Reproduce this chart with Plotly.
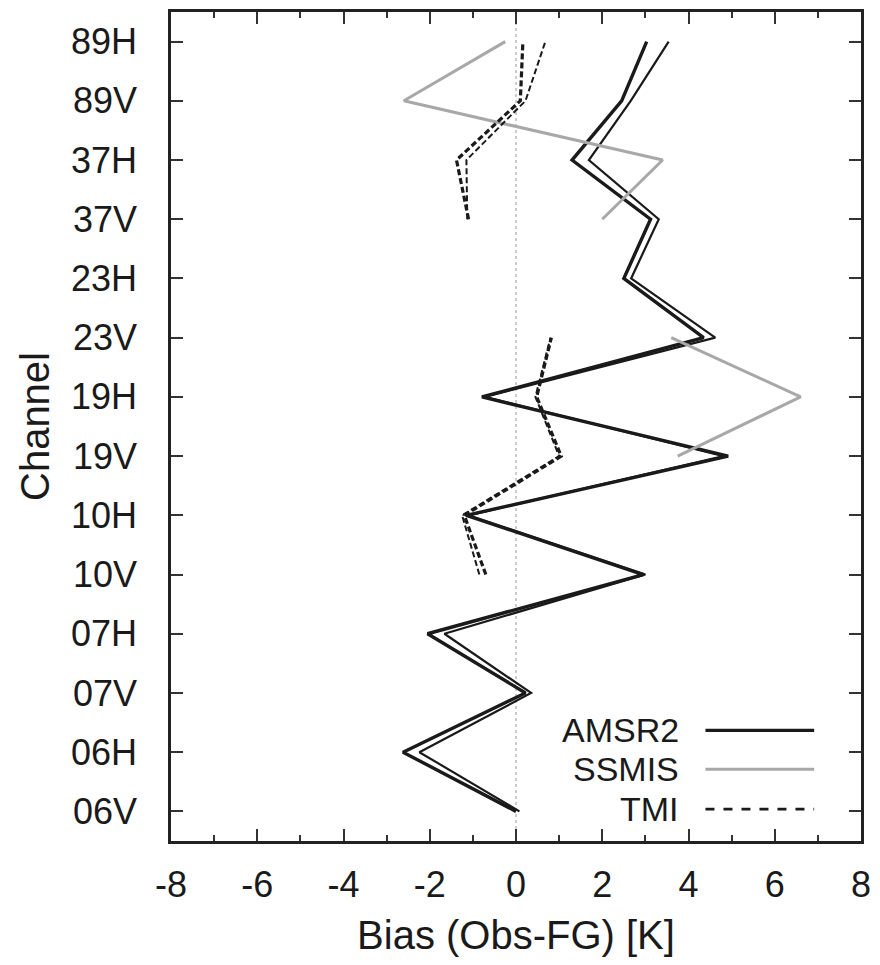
import plotly.graph_objects as go

# Channels, bottom to top
channels = ["06V", "06H", "07V", "07H", "10V", "10H", "19V", "19H",
            "23V", "23H", "37V", "37H", "89V", "89H"]

# Mean bias (Obs-FG) in K, two statistics per sensor
amsr2_a = [0.00, -2.62, 0.22, -2.05, 2.95, -1.15, 4.92, -0.79, 4.35, 2.50, 3.12, 1.30, 2.45, 3.03]
amsr2_b = [0.08, -2.24, 0.35, -1.66, 3.00, -1.10, 4.82, -0.72, 4.62, 2.67, 3.31, 1.69, 2.66, 3.54]
ssmis = [None, None, None, None, None, None, 3.75, 6.60, 3.60, None, 2.00, 3.40, -2.60, -0.25]
tmi_a = [None, None, None, None, -0.70, -1.20, 1.05, 0.48, 0.82, None, -1.10, -1.38, 0.10, 0.16]
tmi_b = [None, None, None, None, -0.85, -1.25, 1.00, 0.45, 0.80, None, -1.13, -1.15, 0.22, 0.68]

# x tick labels (plain hyphen minus)
bias_ticks = [-8, -6, -4, -2, 0, 2, 4, 6, 8]
bias_labels = ["-8", "-6", "-4", "-2", "0", "2", "4", "6", "8"]

legend_names = ["AMSR2", "SSMIS", "TMI"]

FONT = "Liberation Sans, Arial, sans-serif"
INK = "#1a1a1a"
GREY = "#a8a8a8"

fig = go.Figure()

series = [
    (amsr2_b, dict(color=INK, width=2.2)),
    (amsr2_a, dict(color=INK, width=3.4)),
    (ssmis, dict(color=GREY, width=3)),
    (tmi_b, dict(color=INK, width=2, dash="6px,3px")),
    (tmi_a, dict(color=INK, width=3.2, dash="6px,3px")),
]
for values, line in series:
    fig.add_trace(go.Scatter(
        x=values, y=channels, mode="lines", line=line,
        connectgaps=False, showlegend=False, hoverinfo="skip",
    ))

# zero reference line
fig.add_shape(type="line", xref="x", yref="paper", x0=0, x1=0, y0=0, y1=1,
              line=dict(color="#9a9a9a", width=1, dash="dot"), layer="below")

# legend: label on the left, line sample on the right
legend_styles = [
    dict(color=INK, width=3.4),
    dict(color=GREY, width=3),
    dict(color=INK, width=2.6, dash="dash"),
]
legend_y = [0.1334, 0.0865, 0.0385]
for name, style, ly in zip(legend_names, legend_styles, legend_y):
    fig.add_shape(type="line", xref="paper", yref="paper",
                  x0=0.7746, x1=0.9321, y0=ly, y1=ly, line=style)
    fig.add_annotation(xref="paper", yref="paper", x=0.739, y=ly,
                       xanchor="right", yanchor="middle", showarrow=False,
                       text=name, font=dict(family=FONT, size=34, color=INK))

axis_common = dict(
    showline=True, linecolor="#222222", linewidth=2.5, mirror="allticks",
    ticks="inside", tickcolor="#333333", tickwidth=2, ticklen=12,
    showgrid=False, zeroline=False,
    tickfont=dict(family=FONT, size=36, color=INK),
)

fig.update_xaxes(
    range=[-8, 8], tickmode="array", tickvals=bias_ticks, ticktext=bias_labels,
    minor=dict(dtick=1, tick0=0, ticks="inside", ticklen=6, tickwidth=2, tickcolor="#333333"),
    ticklabelstandoff=10,
    title=dict(text="Bias (Obs-FG) [K]", font=dict(family=FONT, size=40, color=INK), standoff=18),
    **axis_common,
)
fig.update_yaxes(
    type="category", categoryorder="array", categoryarray=channels,
    range=[-0.5, 13.5],
    ticklabelstandoff=24,
    title=dict(text="Channel", font=dict(family=FONT, size=40, color=INK), standoff=10),
    **axis_common,
)

fig.update_layout(
    width=880, height=965,
    margin=dict(l=171, r=17, t=9, b=124),
    paper_bgcolor="white", plot_bgcolor="white",
    showlegend=False,
)

fig.write_html("out.html")
